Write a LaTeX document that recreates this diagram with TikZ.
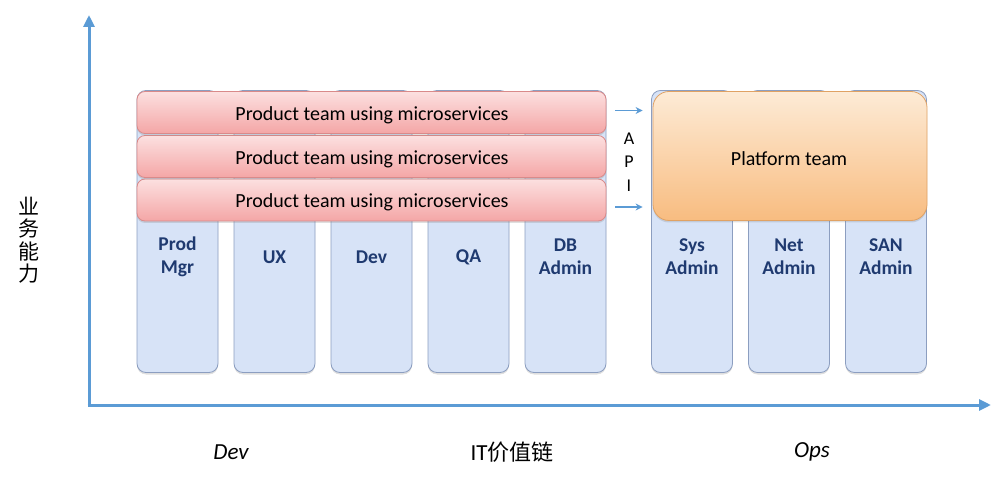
\documentclass[tikz,border=0pt]{standalone}
\usepackage{fontspec}
\setmainfont{Carlito}
\newfontfamily\cjk{Noto Sans CJK SC}
\usetikzlibrary{arrows.meta,shadows}
\definecolor{axisblue}{HTML}{5B9BD5}
\definecolor{colfill}{HTML}{D7E3F7}
\definecolor{coldraw}{HTML}{8C9EC0}
\definecolor{coltext}{HTML}{1F3A70}
\definecolor{pinktop}{HTML}{FCE0E0}
\definecolor{pinkbot}{HTML}{F4A6A6}
\definecolor{pinkdraw}{HTML}{D98A8A}
\definecolor{orgtop}{HTML}{FDEBD6}
\definecolor{orgbot}{HTML}{F8BC80}
\definecolor{orgdraw}{HTML}{E0A264}
\tikzset{
  colbox/.style={draw=coldraw, fill=colfill, line width=0.8pt, rounded corners=9pt,
    minimum width=81pt, minimum height=282pt, inner sep=0pt,
    drop shadow={shadow xshift=0pt, shadow yshift=-2pt, opacity=0.25}},
  collabel/.style={font=\fontsize{19.5}{23}\selectfont\bfseries, text=coltext, align=center, inner sep=0pt},
  pinkbar/.style={draw=pinkdraw, line width=0.8pt, rounded corners=8pt, top color=pinktop, bottom color=pinkbot,
    minimum width=469pt, minimum height=42pt, inner sep=0pt,
    drop shadow={shadow xshift=0pt, shadow yshift=-2pt, opacity=0.25}},
  bartext/.style={font=\fontsize{20}{24}\selectfont, inner sep=0pt},
  platbox/.style={draw=orgdraw, line width=0.8pt, rounded corners=16pt, top color=orgtop, bottom color=orgbot,
    minimum width=274pt, minimum height=129pt, inner sep=0pt,
    drop shadow={shadow xshift=0pt, shadow yshift=-2pt, opacity=0.25}},
  axis/.style={draw=axisblue, line width=3pt, -{Triangle[length=12pt,width=11pt]}},
  apiarrow/.style={draw=axisblue, line width=1.5pt, -{Stealth[length=7pt,width=7pt]}},
  lbl/.style={font=\fontsize{18}{21}\selectfont, inner sep=0pt},
}
\begin{document}
\begin{tikzpicture}[x=1pt,y=-1pt]
\useasboundingbox (0,0) rectangle (1005,481);
% axes
\coordinate (origin) at (89,405);
\coordinate (ytop) at (89,15);
\coordinate (xend) at (991,405);
\draw[axis] (origin) -- (ytop);
\draw[axis] ([xshift=-1.5pt]origin) -- (xend);
% columns
\node[colbox] (c1) at (177.5,231.5) {};
\node[colbox] (c2) at (274.5,231.5) {};
\node[colbox] (c3) at (371.5,231.5) {};
\node[colbox] (c4) at (468.5,231.5) {};
\node[colbox] (c5) at (565.5,231.5) {};
\node[colbox] (c6) at (692,231.5) {};
\node[colbox] (c7) at (789,231.5) {};
\node[colbox] (c8) at (886,231.5) {};
\node[collabel] (t1) at (177.5,257) {Prod\\Mgr};
\node[collabel] (t2) at (274.5,257) {UX};
\node[collabel] (t3) at (371.5,257) {Dev};
\node[collabel] (t4) at (468.5,257) {QA};
\node[collabel] (t5) at (565.5,257) {DB\\Admin};
\node[collabel] (t6) at (692,257) {Sys\\Admin};
\node[collabel] (t7) at (789,257) {Net\\Admin};
\node[collabel] (t8) at (886,257) {SAN\\Admin};
% product bars
\node[pinkbar] (b3) at (371.5,200) {};
\node[pinkbar] (b2) at (371.5,156.5) {};
\node[pinkbar] (b1) at (371.5,112.5) {};
\node[bartext] (bt1) at (372,115) {Product team using microservices};
\node[bartext] (bt2) at (372,159) {Product team using microservices};
\node[bartext] (bt3) at (372,202) {Product team using microservices};
% platform
\node[platbox] (plat) at (790,156) {};
\node[bartext] (pt) at (789,159) {Platform team};
% API
\node[lbl, font=\fontsize{18}{20}\selectfont] (apiA) at (629,139) {A};
\node[lbl, font=\fontsize{18}{20}\selectfont] (apiP) at (629,162) {P};
\node[lbl, font=\fontsize{18}{20}\selectfont] (apiI) at (629,186) {I};
\draw[apiarrow] ([xshift=9pt,yshift=2pt]b1.east) -- ([xshift=-10pt,yshift=2pt]b1.east -| plat.west);
\draw[apiarrow] ([xshift=9pt,yshift=-7pt]b3.east) -- ([xshift=-10pt,yshift=-7pt]b3.east -| plat.west);
% labels
\node[lbl, font=\fontsize{23}{26}\selectfont\itshape] (ldev) at (231,452) {Dev};
\node[lbl, font=\fontsize{23}{26}\selectfont] (lit) at (512,452) {IT{\cjk\fontsize{22}{26}\selectfont 价值链}};
\node[lbl, font=\fontsize{23}{26}\selectfont\itshape] (lops) at (812,452) {Ops};
\node[lbl, align=center, font=\fontsize{21}{22.5}\selectfont\cjk] (ylab) at (29,240) {业\\务\\能\\力};
\end{tikzpicture}
\end{document}
